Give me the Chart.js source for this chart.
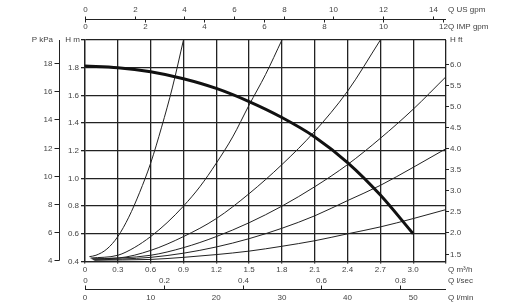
<!DOCTYPE html>
<html>
<head>
<meta charset="utf-8">
<script src="https://cdn.jsdelivr.net/npm/chart.js@4.4.1/dist/chart.umd.min.js"></script>
<style>
html, body { margin: 0; padding: 0; background: #fff; }
#wrap { width: 523px; height: 306px; }
</style>
</head>
<body>
<div id="wrap"><canvas id="chart" width="523" height="306"></canvas></div>
<script>
// flow in m3/h, head in m
const qTicks = [0, 0.3, 0.6, 0.9, 1.2, 1.5, 1.8, 2.1, 2.4, 2.7, 3.0, 3.3];
const hTicks = [0.4, 0.6, 0.8, 1.0, 1.2, 1.4, 1.6, 1.8, 2.0];

// secondary unit scales
const usGpmTicks = [0, 2, 4, 6, 8, 10, 12, 14];
const impGpmTicks = [0, 2, 4, 6, 8, 10, 12];
const lsecTicks = [0, 0.2, 0.4, 0.6, 0.8];
const lminTicks = [0, 10, 20, 30, 40, 50];
const kpaTicks = [4, 6, 8, 10, 12, 14, 16, 18];
const ftTicks = [1.5, 2.0, 2.5, 3.0, 3.5, 4.0, 4.5, 5.0, 5.5, 6.0];

// pump curve (thick)
const pumpQ = [0, 0.3, 0.6, 0.9, 1.2, 1.5, 1.8, 2.1, 2.4, 2.7, 3.0];
const pumpH = [1.812, 1.80, 1.77, 1.72, 1.65, 1.555, 1.44, 1.30, 1.115, 0.88, 0.60];

// system curves (thin), steepest first
const sys1Q = [0.04, 0.1, 0.2, 0.3, 0.4, 0.5, 0.6, 0.7, 0.8, 0.9];
const sys1H = [0.435, 0.445, 0.49, 0.58, 0.72, 0.90, 1.11, 1.37, 1.66, 2.0];
const sys2Q = [0.05, 0.3, 0.45, 0.6, 0.75, 0.9, 1.05, 1.2, 1.35, 1.5, 1.65, 1.8];
const sys2H = [0.425, 0.445, 0.50, 0.58, 0.68, 0.80, 0.94, 1.11, 1.30, 1.53, 1.75, 2.0];
const sys3Q = [0.06, 0.3, 0.6, 0.9, 1.2, 1.5, 1.8, 2.1, 2.4, 2.7];
const sys3H = [0.42, 0.425, 0.48, 0.58, 0.71, 0.89, 1.10, 1.34, 1.63, 2.0];
const sys4Q = [0.07, 0.6, 0.9, 1.2, 1.5, 1.8, 2.1, 2.4, 2.7, 3.0, 3.3];
const sys4H = [0.415, 0.445, 0.50, 0.58, 0.68, 0.80, 0.94, 1.10, 1.29, 1.50, 1.735];
const sys5Q = [0.08, 0.6, 0.9, 1.2, 1.5, 1.8, 2.1, 2.4, 2.7, 3.0, 3.3];
const sys5H = [0.41, 0.43, 0.46, 0.505, 0.565, 0.64, 0.73, 0.84, 0.95, 1.08, 1.215];
const sys6Q = [0.09, 0.6, 0.9, 1.2, 1.5, 1.8, 2.1, 2.4, 2.7, 3.0, 3.3];
const sys6H = [0.41, 0.415, 0.43, 0.45, 0.475, 0.51, 0.55, 0.60, 0.65, 0.71, 0.775];

const M3H_PER_USGPM = 1 / 4.4029;
const M3H_PER_IMPGPM = 1 / 3.6661;
const M3H_PER_LSEC = 3.6;
const M3H_PER_LMIN = 0.06;
const M_PER_KPA = 1 / 9.81;
const M_PER_FT = 0.3048;

const FONT = '8px "Liberation Sans", Arial, sans-serif';
const TXT = '#444';
const LINE = '#222';

function pts(qs, hs) {
    return qs.map((q, i) => ({ x: q, y: hs[i] }));
}

function sysSet(qs, hs) {
    return {
        data: pts(qs, hs),
        borderColor: '#222',
        borderWidth: 1,
        pointRadius: 0,
        cubicInterpolationMode: 'monotone',
    };
}

const extraAxes = {
    id: 'extraAxes',
    afterDraw(chart) {
        const { ctx, chartArea: a, scales: { x, y } } = chart;
        ctx.save();
        ctx.strokeStyle = LINE;
        ctx.fillStyle = TXT;
        ctx.lineWidth = 1;
        ctx.font = FONT;

        // top: US gpm above, IMP gpm below
        const topY = 19.5;
        ctx.beginPath();
        ctx.moveTo(a.left, topY);
        ctx.lineTo(a.right, topY);
        ctx.stroke();
        ctx.textAlign = 'center';
        ctx.textBaseline = 'middle';
        usGpmTicks.forEach(v => {
            const px = Math.round(x.getPixelForValue(v * M3H_PER_USGPM)) + 0.5;
            ctx.beginPath();
            ctx.moveTo(px, topY);
            ctx.lineTo(px, topY - 3);
            ctx.stroke();
            ctx.fillText(String(v), px, 10);
        });
        impGpmTicks.forEach(v => {
            const px = Math.round(x.getPixelForValue(v * M3H_PER_IMPGPM)) + 0.5;
            ctx.beginPath();
            ctx.moveTo(px, topY);
            ctx.lineTo(px, topY + 3);
            ctx.stroke();
            ctx.fillText(String(v), px, 27);
        });
        ctx.textAlign = 'left';
        ctx.fillText('Q US gpm', 448, 10);
        ctx.fillText('Q IMP gpm', 448, 27);

        // bottom: l/sec above, l/min below
        const botY = 289.5;
        ctx.beginPath();
        ctx.moveTo(a.left, botY);
        ctx.lineTo(a.right, botY);
        ctx.stroke();
        ctx.textAlign = 'center';
        lsecTicks.forEach(v => {
            const px = Math.round(x.getPixelForValue(v * M3H_PER_LSEC)) + 0.5;
            ctx.beginPath();
            ctx.moveTo(px, botY);
            ctx.lineTo(px, botY - 4);
            ctx.stroke();
            ctx.fillText(String(v), px, 280.5);
        });
        lminTicks.forEach(v => {
            const px = x.getPixelForValue(v * M3H_PER_LMIN);
            ctx.fillText(String(v), px, 297.5);
        });
        ctx.textAlign = 'left';
        ctx.fillText('Q m\u00b3/h', 448, 269.5);
        ctx.fillText('Q l/sec', 448, 280.5);
        ctx.fillText('Q l/min', 448, 297.5);

        // left: P kPa axis
        const kx = 59.5;
        ctx.beginPath();
        ctx.moveTo(kx, a.top);
        ctx.lineTo(kx, y.getPixelForValue(kpaTicks[0] * M_PER_KPA));
        ctx.stroke();
        ctx.textAlign = 'right';
        kpaTicks.forEach(v => {
            const py = Math.round(y.getPixelForValue(v * M_PER_KPA)) + 0.5;
            ctx.beginPath();
            ctx.moveTo(kx, py);
            ctx.lineTo(kx - 5, py);
            ctx.stroke();
            ctx.fillText(String(v), kx - 7, py);
        });
        ctx.fillText('P kPa', 53, a.top);
        ctx.fillText('H m', 80, a.top);

        // right: H ft axis
        ctx.textAlign = 'left';
        ftTicks.forEach(v => {
            const py = Math.round(y.getPixelForValue(v * M_PER_FT)) + 0.5;
            ctx.beginPath();
            ctx.moveTo(a.right, py);
            ctx.lineTo(a.right + 3, py);
            ctx.stroke();
            ctx.fillText(v.toFixed(1), a.right + 4, py);
        });
        ctx.fillText('H ft', a.right + 4, a.top);
        ctx.restore();
    }
};

new Chart(document.getElementById('chart'), {
    type: 'line',
    data: {
        datasets: [
            {
                data: pts(pumpQ, pumpH),
                borderColor: '#111',
                borderWidth: 3,
                pointRadius: 0,
                cubicInterpolationMode: 'monotone',
            },
            sysSet(sys1Q, sys1H),
            sysSet(sys2Q, sys2H),
            sysSet(sys3Q, sys3H),
            sysSet(sys4Q, sys4H),
            sysSet(sys5Q, sys5H),
            sysSet(sys6Q, sys6H),
        ]
    },
    options: {
        responsive: false,
        animation: false,
        layout: { padding: { top: 40, right: 77, left: 0, bottom: 0 } },
        plugins: {
            legend: { display: false },
            tooltip: { enabled: false },
        },
        scales: {
            x: {
                type: 'linear',
                min: 0,
                max: 3.3,
                afterBuildTicks: s => { s.ticks = qTicks.map(v => ({ value: v })); },
                afterFit: s => { s.height = 44.5; },
                grid: { color: LINE, lineWidth: 1.3, tickLength: 2 },
                border: { color: LINE, width: 1.3 },
                ticks: {
                    font: { family: '"Liberation Sans", Arial, sans-serif', size: 8 },
                    color: TXT,
                    padding: 1,
                    maxRotation: 0,
                    callback: v => v === 0 ? '0' : (v > 3.2 ? '' : v.toFixed(1)),
                },
            },
            y: {
                type: 'linear',
                min: 0.4,
                max: 2.0,
                afterBuildTicks: s => { s.ticks = hTicks.map(v => ({ value: v })); },
                afterFit: s => { s.width = 85; },
                grid: { color: LINE, lineWidth: 1.3, tickLength: 4 },
                border: { color: LINE, width: 1.3 },
                ticks: {
                    font: { family: '"Liberation Sans", Arial, sans-serif', size: 8 },
                    color: TXT,
                    padding: 2,
                    callback: v => v > 1.9 ? '' : v.toFixed(1),
                },
            },
        },
    },
    plugins: [extraAxes],
});
</script>
</body>
</html>
